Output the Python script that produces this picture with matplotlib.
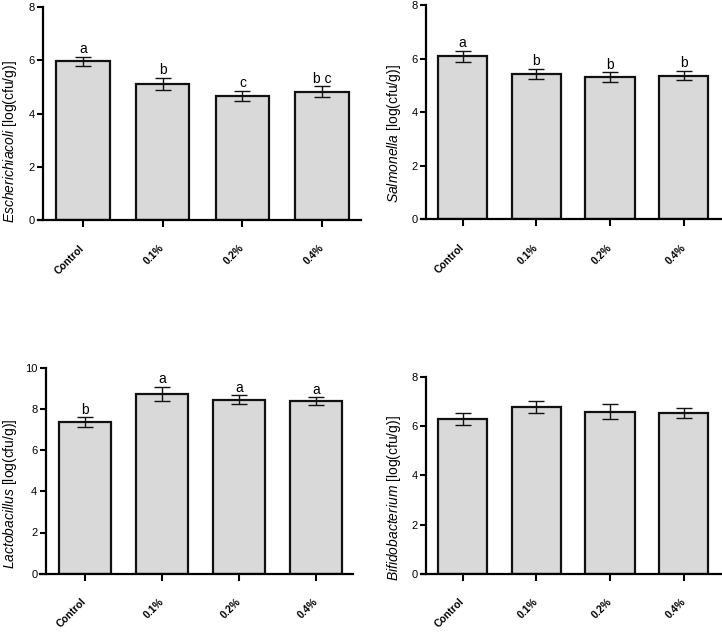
import matplotlib
matplotlib.use('Agg')
import matplotlib.pyplot as plt

plt.rcParams['font.family'] = ['Liberation Sans', 'DejaVu Sans']
plt.rcParams['mathtext.fontset'] = 'custom'
plt.rcParams['mathtext.it'] = 'Liberation Sans:italic'
plt.rcParams['mathtext.rm'] = 'Liberation Sans'

groups = ['Control', '0.1%', '0.2%', '0.4%']

ecoli = [5.97, 5.12, 4.65, 4.82]
ecoli_err = [0.17, 0.23, 0.19, 0.20]
ecoli_letters = ['a', 'b', 'c', 'b c']

salmonella = [6.10, 5.43, 5.32, 5.37]
salmonella_err = [0.21, 0.19, 0.17, 0.17]
salmonella_letters = ['a', 'b', 'b', 'b']

lacto = [7.35, 8.74, 8.45, 8.37]
lacto_err = [0.24, 0.34, 0.21, 0.19]
lacto_letters = ['b', 'a', 'a', 'a']

bifido = [6.29, 6.78, 6.59, 6.53]
bifido_err = [0.23, 0.25, 0.30, 0.19]
bifido_letters = ['', '', '', '']

W, H = 722, 632
fig = plt.figure(figsize=(W / 100, H / 100), dpi=100)

# pixel layout: x-axis start, x-axis end, y-spine x, first tick x, tick spacing,
# y=0 pixel, y=top pixel, ymax, ylabel right edge (x px), ylabel centre (axes frac)
panels = [
    (ecoli, ecoli_err, ecoli_letters, 'Escherichiacoli',
     (38, 361, 43, 83, 79.7, 220, 7, 8, 19, 0.37)),
    (salmonella, salmonella_err, salmonella_letters, 'Salmonella',
     (421, 722, 426, 462.7, 73.7, 219.3, 5.3, 8, 403, 0.40)),
    (lacto, lacto_err, lacto_letters, 'Lactobacillus',
     (40, 352.7, 45.7, 85, 77, 573.7, 367.7, 10, 19, 0.39)),
    (bifido, bifido_err, bifido_letters, 'Bifidobacterium',
     (421, 722, 426, 462.7, 73.7, 573.7, 377, 8, 403, 0.385)),
]

for vals, errs, letters, name, lay in panels:
    x0, x1, ysp, t0, dx, py0, pytop, ymax, labx, laby = lay
    ax = fig.add_axes([x0 / W, 1 - py0 / H, (x1 - x0) / W, (py0 - pytop) / H])
    ax.set_facecolor('none')
    xs = list(range(len(groups)))
    ax.bar(xs, vals, width=0.67, color='#d9d9d9', edgecolor='#111111', linewidth=1.6, zorder=2)
    ax.errorbar(xs, vals, yerr=errs, fmt='none', ecolor='#111111', elinewidth=1.0,
                capsize=6, capthick=1.0, zorder=3)
    for x, v, e, lab in zip(xs, vals, errs, letters):
        if lab:
            ax.annotate(lab, (x, v + e), xytext=(0, 0.5), textcoords='offset points',
                        ha='center', va='bottom', fontsize=10)
    ax.set_xlim((x0 - t0) / dx, (x1 - t0) / dx)
    ax.set_ylim(0, ymax)
    ax.set_yticks(range(0, ymax + 1, 2))
    ax.set_xticks(xs)
    ax.set_xticklabels(groups, rotation=45, ha='right', va='center',
                       rotation_mode='anchor', fontsize=7.5, fontweight='bold')
    for t in ax.get_yticklabels():
        t.set_fontweight('bold')
    ax.tick_params(axis='y', labelsize=8, length=4, width=1.5, pad=2)
    ax.tick_params(axis='x', length=5, width=1.5, pad=14)
    for s in ['top', 'right']:
        ax.spines[s].set_visible(False)
    ax.spines['left'].set_position(('data', (ysp - t0) / dx))
    ax.spines['left'].set_linewidth(1.6)
    ax.spines['bottom'].set_linewidth(1.6)
    ax.set_ylabel(r'$\it{' + name + r'}$ [log(cfu/g)]', fontsize=10)
    ax.yaxis.set_label_coords((labx - x0) / (x1 - x0), laby)

fig.savefig('out.png', dpi=100)
